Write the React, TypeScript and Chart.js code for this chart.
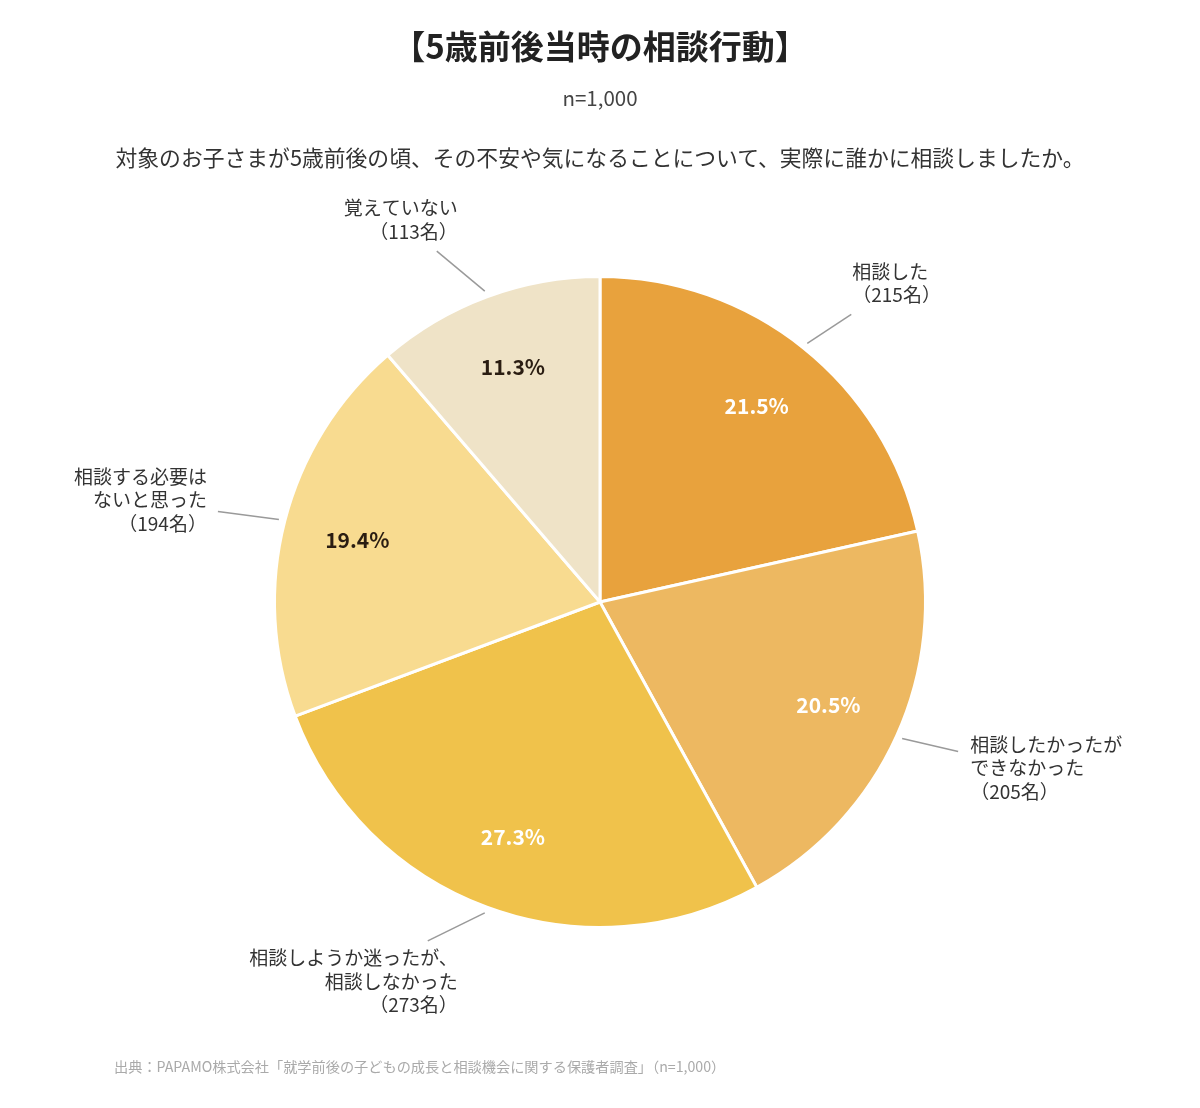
import React, { useEffect, useRef } from 'react';
import { Chart, registerables } from 'chart.js';

Chart.register(...registerables);

const categories = [
  '相談した',
  '相談したかったが\nできなかった',
  '相談しようか迷ったが、\n相談しなかった',
  '相談する必要は\nないと思った',
  '覚えていない',
];
const percents = [21.5, 20.5, 27.3, 19.4, 11.3];
const counts = [215, 205, 273, 194, 113];

const sliceColors = ['#E8A23D', '#EDB861', '#F0C24B', '#F8DB90', '#EFE3C7'];
const pctColors = ['#ffffff', '#ffffff', '#ffffff', '#2a1d12', '#2a1d12'];

// leader line offset (dx, dy) from slice edge, text anchor offset (tx, ty) from line end
const labelLayout = [
  { dx: 44, dy: -29, tx: 1, ty: -43, align: 'left' },
  { dx: 56, dy: 13, tx: 12, ty: -7, align: 'left' },
  { dx: -57, dy: 28, tx: 30, ty: 17, align: 'right' },
  { dx: -61, dy: -8, tx: -11, ty: -35, align: 'right' },
  { dx: -48, dy: -40, tx: 21, ty: -43, align: 'right' },
];

const FONT = '"Noto Sans CJK JP", "Noto Sans", sans-serif';

const labelPlugin = {
  id: 'pieLabels',
  afterDatasetsDraw(chart: any) {
    const { ctx } = chart;
    const meta = chart.getDatasetMeta(0);
    meta.data.forEach((arc: any, i: number) => {
      const { x, y, startAngle, endAngle, outerRadius } = arc.getProps(
        ['x', 'y', 'startAngle', 'endAngle', 'outerRadius'],
        true
      );
      const mid = (startAngle + endAngle) / 2;
      const cos = Math.cos(mid);
      const sin = Math.sin(mid);

      // percentage inside slice
      ctx.save();
      ctx.font = `bold 21px ${FONT}`;
      ctx.fillStyle = pctColors[i];
      ctx.textAlign = 'center';
      ctx.textBaseline = 'middle';
      const pr = outerRadius * 0.77;
      ctx.fillText(`${percents[i].toFixed(1)}%`, x + cos * pr, y + sin * pr);

      // leader line
      const lay = labelLayout[i];
      const sx = x + cos * (outerRadius + 6);
      const sy = y + sin * (outerRadius + 6);
      const ex = sx + lay.dx;
      const ey = sy + lay.dy;
      ctx.strokeStyle = '#9a9a9a';
      ctx.lineWidth = 1.5;
      ctx.beginPath();
      ctx.moveTo(sx, sy);
      ctx.lineTo(ex, ey);
      ctx.stroke();

      // outside label
      const lines = [...categories[i].split('\n'), `（${counts[i]}名）`];
      ctx.font = `19px ${FONT}`;
      ctx.fillStyle = '#333333';
      ctx.textAlign = lay.align as CanvasTextAlign;
      lines.forEach((ln, k) => {
        ctx.fillText(ln, ex + lay.tx, ey + lay.ty + k * 23.5);
      });
      ctx.restore();
    });
  },
};

const App = () => {
  const chartRef = useRef<HTMLCanvasElement>(null);

  useEffect(() => {
    if (!chartRef.current) return;
    const chart = new Chart(chartRef.current, {
      type: 'pie',
      data: {
        labels: categories,
        datasets: [
          {
            data: percents,
            backgroundColor: sliceColors,
            borderColor: '#ffffff',
            borderWidth: 3,
          },
        ],
      },
      options: {
        responsive: false,
        animation: false,
        layout: { padding: { left: 273, right: 273, top: 275, bottom: 179 } },
        plugins: {
          legend: { display: false },
          tooltip: { enabled: false },
        },
      },
      plugins: [labelPlugin],
    });
    return () => chart.destroy(); // cleanup
  }, []);

  return (
    <div style={{ position: 'absolute', top: 0, left: 0, width: 1200, height: 1108, background: '#fff', fontFamily: FONT }}>
      <canvas ref={chartRef} width={1200} height={1108} style={{ position: 'absolute', top: 0, left: 0 }} />
      <div style={{ position: 'absolute', top: 24, left: 0, width: 1200, height: 42, lineHeight: '42px', textAlign: 'center', fontSize: 33, fontWeight: 'bold', color: '#222' }}>
        【5歳前後当時の相談行動】
      </div>
      <div style={{ position: 'absolute', top: 82, left: 0, width: 1200, height: 30, lineHeight: '30px', textAlign: 'center', fontSize: 20.5, color: '#444' }}>
        n=1,000
      </div>
      <div style={{ position: 'absolute', top: 142, left: 0, width: 1200, height: 30, lineHeight: '30px', textAlign: 'center', fontSize: 21.8, color: '#333' }}>
        対象のお子さまが5歳前後の頃、その不安や気になることについて、実際に誰かに相談しましたか。
      </div>
      <div style={{ position: 'absolute', top: 1056, left: 114, height: 20, lineHeight: '20px', fontSize: 14.2, color: '#aaa', whiteSpace: 'nowrap' }}>
        出典：PAPAMO株式会社「就学前後の子どもの成長と相談機会に関する保護者調査」（n=1,000）
      </div>
    </div>
  );
};

export default App;
